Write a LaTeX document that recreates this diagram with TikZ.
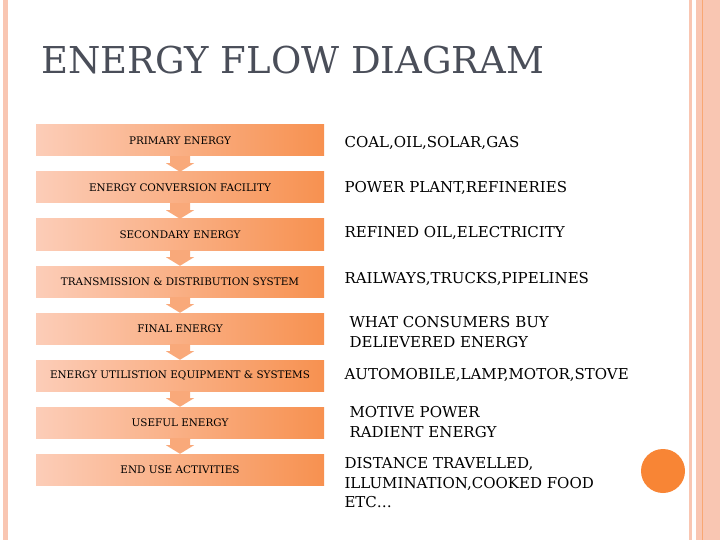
\documentclass[tikz,border=0pt]{standalone}
\usepackage{fontspec}
\setmainfont{DejaVu Serif}
\definecolor{lt}{HTML}{FCCDB8}
\definecolor{dk}{HTML}{F79150}
\definecolor{stripe}{HTML}{F9C6B2}
\definecolor{circ}{HTML}{F88535}
\definecolor{ttl}{HTML}{4A4E59}
\begin{document}
\begin{tikzpicture}[x=1pt,y=-1pt,
  bx/.style={minimum width=288pt,minimum height=31pt,inner sep=0pt,left color=lt,right color=dk,font=\fontsize{10.4}{12}\selectfont},
  lab/.style={anchor=west,align=left,font=\fontsize{15}{19.5}\selectfont},
  arr/.style={fill=dk!60!lt}]
\useasboundingbox (0,0) rectangle (720,540);
\fill[white] (0,0) rectangle (720,540);
\fill[stripe] (3,0) rectangle (8,540);
\fill[stripe] (689,0) rectangle (692,540);
\fill[stripe] (696,0) rectangle (720,540);
\draw[dk!80,line width=0.8pt] (702,0) -- (702,540);
\fill[circ] (663,471) circle (22);
\node[anchor=west,text=ttl,font=\fontsize{37}{40}\selectfont] (title) at (38,60) {ENERGY FLOW DIAGRAM};
\foreach \i/\t in {1/PRIMARY ENERGY,2/ENERGY CONVERSION FACILITY,3/SECONDARY ENERGY,4/TRANSMISSION \& DISTRIBUTION SYSTEM,5/FINAL ENERGY,6/ENERGY UTILISTION EQUIPMENT \& SYSTEMS,7/USEFUL ENERGY,8/END USE ACTIVITIES}{
  \node[bx] (b\i) at (180,{140.5+47*(\i-1)}) {\t};
}
\foreach \i [evaluate=\i as \j using int(\i+1)] in {1,...,7}{
  \fill[arr] ([xshift=-10pt]b\i.south) -- ([xshift=-10pt,yshift=-7pt]b\i.south) -- ([xshift=-14pt,yshift=-7pt]b\i.south) -- (b\j.north) -- ([xshift=14pt,yshift=-7pt]b\i.south) -- ([xshift=10pt,yshift=-7pt]b\i.south) -- ([xshift=10pt]b\i.south) -- cycle;
}
\node[lab] (l1) at (341,143) {COAL,OIL,SOLAR,GAS};
\node[lab] (l2) at (341,188) {POWER PLANT,REFINERIES};
\node[lab] (l3) at (341,233) {REFINED OIL,ELECTRICITY};
\node[lab] (l4) at (341,279) {RAILWAYS,TRUCKS,PIPELINES};
\node[lab] (l5) at (346,332) {WHAT CONSUMERS BUY\\DELIEVERED ENERGY};
\node[lab] (l6) at (341,375) {AUTOMOBILE,LAMP,MOTOR,STOVE};
\node[lab] (l7) at (346,422) {MOTIVE POWER\\RADIENT ENERGY};
\node[lab] (l8) at (341,483) {DISTANCE TRAVELLED,\\ILLUMINATION,COOKED FOOD\\ETC…};
\end{tikzpicture}
\end{document}
